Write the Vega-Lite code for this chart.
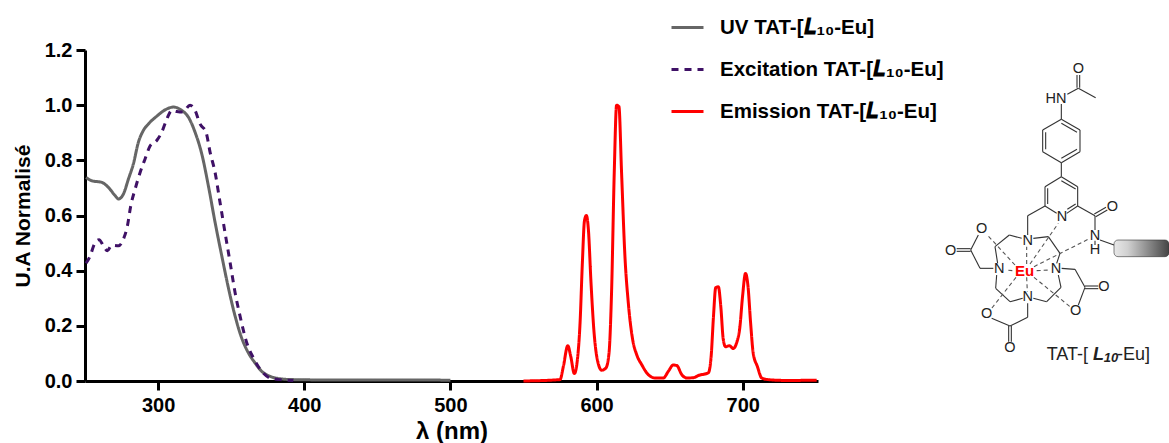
{"$schema":"https://vega.github.io/schema/vega-lite/v6.json","width":733,"height":331,"autosize":{"type":"none"},"padding":{"left":85,"top":50,"right":351,"bottom":62},"background":"white","config":{"view":{"stroke":null},"font":"Liberation Sans"},
"datasets":{"spectra":[
{"s":"UV","nm":250.7,"v":0.738},{"s":"UV","nm":254.6,"v":0.726},{"s":"UV","nm":261.5,"v":0.72},{"s":"UV","nm":266,"v":0.702},{"s":"UV","nm":270.6,"v":0.672},{"s":"UV","nm":272.9,"v":0.66},{"s":"UV","nm":276.3,"v":0.678},{"s":"UV","nm":279.7,"v":0.732},{"s":"UV","nm":283.1,"v":0.787},{"s":"UV","nm":286.5,"v":0.865},{"s":"UV","nm":289.9,"v":0.908},{"s":"UV","nm":293.4,"v":0.932},{"s":"UV","nm":299.1,"v":0.96},{"s":"UV","nm":304.8,"v":0.983},{"s":"UV","nm":310.5,"v":0.993},{"s":"UV","nm":316.2,"v":0.981},{"s":"UV","nm":320.8,"v":0.956},{"s":"UV","nm":325.3,"v":0.902},{"s":"UV","nm":329.9,"v":0.823},{"s":"UV","nm":334.4,"v":0.708},{"s":"UV","nm":339,"v":0.575},{"s":"UV","nm":343.6,"v":0.453},{"s":"UV","nm":348.1,"v":0.338},{"s":"UV","nm":352.7,"v":0.235},{"s":"UV","nm":357.2,"v":0.156},{"s":"UV","nm":361.8,"v":0.102},{"s":"UV","nm":366.4,"v":0.065},{"s":"UV","nm":370.9,"v":0.035},{"s":"UV","nm":376.6,"v":0.017},{"s":"UV","nm":383.5,"v":0.008},{"s":"UV","nm":392.6,"v":0.005},{"s":"UV","nm":408.6,"v":0.004},{"s":"UV","nm":442.8,"v":0.004},{"s":"UV","nm":500,"v":0.003},
{"s":"EX","nm":250.7,"v":0.427},{"s":"EX","nm":253.5,"v":0.453},{"s":"EX","nm":256.4,"v":0.496},{"s":"EX","nm":259.6,"v":0.512},{"s":"EX","nm":262.6,"v":0.49},{"s":"EX","nm":265.3,"v":0.472},{"s":"EX","nm":268.3,"v":0.492},{"s":"EX","nm":272.9,"v":0.49},{"s":"EX","nm":276.7,"v":0.52},{"s":"EX","nm":279,"v":0.562},{"s":"EX","nm":281.3,"v":0.635},{"s":"EX","nm":284.3,"v":0.696},{"s":"EX","nm":287.7,"v":0.756},{"s":"EX","nm":291.1,"v":0.805},{"s":"EX","nm":294.6,"v":0.853},{"s":"EX","nm":299.1,"v":0.872},{"s":"EX","nm":302.5,"v":0.902},{"s":"EX","nm":306,"v":0.95},{"s":"EX","nm":309.4,"v":0.981},{"s":"EX","nm":312.8,"v":0.977},{"s":"EX","nm":316.9,"v":0.975},{"s":"EX","nm":321.9,"v":1.0},{"s":"EX","nm":325.3,"v":0.981},{"s":"EX","nm":328.7,"v":0.932},{"s":"EX","nm":332.8,"v":0.902},{"s":"EX","nm":335.6,"v":0.829},{"s":"EX","nm":339,"v":0.756},{"s":"EX","nm":342.4,"v":0.647},{"s":"EX","nm":345.8,"v":0.538},{"s":"EX","nm":349.3,"v":0.429},{"s":"EX","nm":352.7,"v":0.32},{"s":"EX","nm":356.1,"v":0.235},{"s":"EX","nm":360.7,"v":0.138},{"s":"EX","nm":365.2,"v":0.084},{"s":"EX","nm":370.9,"v":0.035},{"s":"EX","nm":376.6,"v":0.011},{"s":"EX","nm":383.5,"v":0.005},{"s":"EX","nm":392.6,"v":0.002},
{"s":"EM","nm":550,"v":0},{"s":"EM","nm":575,"v":0.005},{"s":"EM","nm":577.3,"v":0.053},{"s":"EM","nm":580.3,"v":0.128},{"s":"EM","nm":582.3,"v":0.09},{"s":"EM","nm":584.8,"v":0.027},{"s":"EM","nm":586.9,"v":0.078},{"s":"EM","nm":588.7,"v":0.21},{"s":"EM","nm":590.3,"v":0.43},{"s":"EM","nm":591.7,"v":0.58},{"s":"EM","nm":593,"v":0.6},{"s":"EM","nm":594.4,"v":0.55},{"s":"EM","nm":596.2,"v":0.356},{"s":"EM","nm":598.3,"v":0.175},{"s":"EM","nm":600.5,"v":0.078},{"s":"EM","nm":603.5,"v":0.039},{"s":"EM","nm":606.4,"v":0.047},{"s":"EM","nm":608.5,"v":0.1},{"s":"EM","nm":610.3,"v":0.33},{"s":"EM","nm":612.1,"v":0.756},{"s":"EM","nm":613.7,"v":1.0},{"s":"EM","nm":615.3,"v":0.995},{"s":"EM","nm":617.1,"v":0.756},{"s":"EM","nm":619.4,"v":0.453},{"s":"EM","nm":621.7,"v":0.284},{"s":"EM","nm":624.7,"v":0.15},{"s":"EM","nm":627.4,"v":0.096},{"s":"EM","nm":630.8,"v":0.06},{"s":"EM","nm":635.4,"v":0.023},{"s":"EM","nm":640,"v":0.011},{"s":"EM","nm":645.7,"v":0.011},{"s":"EM","nm":649.1,"v":0.035},{"s":"EM","nm":652.5,"v":0.058},{"s":"EM","nm":654.9,"v":0.056},{"s":"EM","nm":658.3,"v":0.023},{"s":"EM","nm":661.7,"v":0.011},{"s":"EM","nm":666.2,"v":0.012},{"s":"EM","nm":669.7,"v":0.02},{"s":"EM","nm":676.5,"v":0.03},{"s":"EM","nm":678.4,"v":0.09},{"s":"EM","nm":680,"v":0.235},{"s":"EM","nm":681.5,"v":0.338},{"s":"EM","nm":683.3,"v":0.342},{"s":"EM","nm":685,"v":0.27},{"s":"EM","nm":686.7,"v":0.15},{"s":"EM","nm":688.3,"v":0.124},{"s":"EM","nm":690.8,"v":0.128},{"s":"EM","nm":693.5,"v":0.118},{"s":"EM","nm":695.8,"v":0.138},{"s":"EM","nm":698,"v":0.193},{"s":"EM","nm":699.9,"v":0.308},{"s":"EM","nm":701.9,"v":0.39},{"s":"EM","nm":703.6,"v":0.344},{"s":"EM","nm":705.4,"v":0.21},{"s":"EM","nm":707.2,"v":0.1},{"s":"EM","nm":710,"v":0.053},{"s":"EM","nm":713,"v":0.011},{"s":"EM","nm":717.4,"v":0.005},{"s":"EM","nm":730,"v":0.002},{"s":"EM","nm":750.6,"v":0.003}],
"bonds":[
{"a":441,"b":75,"c":441,"d":113},{"a":449,"b":75,"c":449,"d":113},{"a":445,"b":115,"c":497,"d":143},{"a":445,"b":115,"c":412,"d":133},{"a":394,"b":162,"c":394,"d":208},
{"a":394,"b":208,"c":450,"d":240},{"a":450,"b":240,"c":450,"d":305},{"a":450,"b":305,"c":394,"d":338},{"a":394,"b":338,"c":338,"d":305},{"a":338,"b":305,"c":338,"d":240},{"a":338,"b":240,"c":394,"d":208},{"a":347,"b":247,"c":347,"d":298},{"a":394,"b":220,"c":441,"d":247},{"a":394,"b":325,"c":441,"d":298},{"a":394,"b":338,"c":394,"d":380},
{"a":394,"b":380,"c":345,"d":410},{"a":345,"b":410,"c":345,"d":468},{"a":345,"b":468,"c":380,"d":490},{"a":410,"b":490,"c":443,"d":468},{"a":443,"b":468,"c":443,"d":410},{"a":443,"b":410,"c":394,"d":380},{"a":353,"b":415,"c":353,"d":462},{"a":394,"b":392,"c":437,"d":417},{"a":437,"b":462,"c":412,"d":478},
{"a":443,"b":468,"c":495,"d":497},{"a":493,"b":492,"c":528,"d":472},{"a":497,"b":500,"c":532,"d":480},{"a":495,"b":497,"c":495,"d":540},{"a":495,"b":572,"c":495,"d":585},{"a":510,"b":570,"c":552,"d":585},
{"a":345,"b":468,"c":293,"d":497},{"a":293,"b":497,"c":293,"d":555},
{"a":275,"b":565,"c":238,"d":555},{"a":238,"b":555,"c":195,"d":590},{"a":195,"b":590,"c":203,"d":640},{"a":310,"b":565,"c":355,"d":560},{"a":355,"b":560,"c":390,"d":610},{"a":390,"b":610,"c":380,"d":640},{"a":385,"b":675,"c":393,"d":712},{"a":393,"b":712,"c":350,"d":755},{"a":350,"b":755,"c":310,"d":745},{"a":200,"b":675,"c":197,"d":715},{"a":197,"b":715,"c":240,"d":755},{"a":240,"b":755,"c":278,"d":745},
{"a":190,"b":655,"c":150,"d":655},{"a":150,"b":655,"c":122,"d":600},{"a":122,"b":596,"c":80,"d":596},{"a":122,"b":604,"c":80,"d":604},{"a":122,"b":600,"c":145,"d":555},
{"a":395,"b":655,"c":435,"d":658},{"a":435,"b":658,"c":465,"d":712},{"a":465,"b":708,"c":505,"d":708},{"a":465,"b":716,"c":505,"d":716},{"a":465,"b":712,"c":445,"d":765},
{"a":293,"b":760,"c":293,"d":802},{"a":293,"b":802,"c":240,"d":828},{"a":236,"b":828,"c":236,"d":875},{"a":244,"b":828,"c":244,"d":875},{"a":240,"b":828,"c":185,"d":805}],
"coord":[
{"a":290,"b":642,"c":290,"d":590},{"a":247,"b":662,"c":226,"d":660},{"a":320,"b":662,"c":358,"d":660},{"a":290,"b":682,"c":292,"d":725},{"a":255,"b":645,"c":172,"d":555},{"a":258,"b":682,"c":185,"d":775},{"a":312,"b":682,"c":420,"d":770},{"a":300,"b":642,"c":385,"d":520},{"a":312,"b":650,"c":480,"d":565}],
"atoms":[{"t":"O","a":445,"b":57},{"t":"HN","a":378,"b":147},{"t":"N","a":396,"b":502},{"t":"O","a":547,"b":470},{"t":"N","a":495,"b":557},{"t":"H","a":495,"b":600},{"t":"N","a":293,"b":572},{"t":"N","a":378,"b":658},{"t":"N","a":293,"b":742},{"t":"N","a":208,"b":658},{"t":"O","a":62,"b":602},{"t":"O","a":155,"b":537},{"t":"O","a":522,"b":712},{"t":"O","a":437,"b":783},{"t":"O","a":240,"b":893},{"t":"O","a":170,"b":792}]},
"layer":[
{"layer":[{"data":{"name":"spectra"},"mark":{"type":"line","strokeWidth":3,"interpolate":"monotone","clip":false},
"encoding":{"x":{"field":"nm","type":"quantitative","scale":{"domain":[250,751.5],"nice":false},
"axis":{"values":[300,400,500,600,700],"grid":false,"domainColor":"black","domainWidth":3,"tickColor":"black","tickWidth":3,"tickSize":9,"labelFontSize":20,"labelFontWeight":"bold","labelColor":"black","labelPadding":5,"title":"λ (nm)","titleFontSize":24,"titleFontWeight":"bold","titleColor":"black","titlePadding":4}},
"y":{"field":"v","type":"quantitative","scale":{"domain":[0,1.2],"nice":false},
"axis":{"values":[0,0.2,0.4,0.6,0.8,1.0,1.2],"format":".1f","grid":false,"domainColor":"black","domainWidth":3,"tickColor":"black","tickWidth":3,"tickSize":9,"labelFontSize":20,"labelFontWeight":"bold","labelColor":"black","labelPadding":4,"title":"U.A Normalisé","titleFontSize":21,"titleFontWeight":"bold","titleColor":"black","titlePadding":11}},
"color":{"field":"s","type":"nominal","title":null,"scale":{"domain":["UV","EX","EM"],"range":["#666666","#3f1166","#ff0000"]},
"legend":{"orient":"none","legendX":585,"legendY":-40,"symbolType":"stroke","symbolSize":1024,"symbolStrokeWidth":3,"labelFontSize":20.5,"labelFontWeight":"bold","labelColor":"black","labelOffset":15,"rowPadding":14,"labelExpr":"{'UV':'UV TAT-[𝑳₁₀-Eu]','EX':'Excitation TAT-[𝑳₁₀-Eu]','EM':'Emission TAT-[𝑳₁₀-Eu]'}[datum.label]","labelLimit":320}},
"strokeDash":{"field":"s","type":"nominal","title":null,"scale":{"domain":["UV","EX","EM"],"range":[[1,0],[7,6],[1,0]]}}}}]},
{"encoding":{"x":{"field":"a","type":"quantitative","scale":{"domain":[-2535,-336],"nice":false},"axis":null},"y":{"field":"b","type":"quantitative","scale":{"domain":[993,0],"nice":false},"axis":null}},
"layer":[
{"data":{"name":"bonds"},"mark":{"type":"rule","color":"#333333","strokeWidth":1.1},"encoding":{"x2":{"field":"c"},"y2":{"field":"d"}}},
{"data":{"name":"coord"},"mark":{"type":"rule","color":"#555555","strokeWidth":1.1,"strokeDash":[4,3]},"encoding":{"x2":{"field":"c"},"y2":{"field":"d"}}},
{"data":{"name":"atoms"},"mark":{"type":"text","fontSize":14.5,"color":"#222222","align":"center","baseline":"middle"},"encoding":{"text":{"field":"t"}}},
{"data":{"values":[{"t":"Eu","a":284,"b":662}]},"mark":{"type":"text","fontSize":15,"fontWeight":"bold","color":"#ff0000","align":"center","baseline":"middle"},"encoding":{"text":{"field":"t"}}},
{"data":{"values":[{"a":552,"b":570,"c":717,"d":620}]},"mark":{"type":"rect","cornerRadius":4,"color":{"gradient":"linear","x1":0,"y1":0,"x2":1,"y2":0,"stops":[{"offset":0,"color":"#e8e8e8"},{"offset":0.25,"color":"#d0d0d0"},{"offset":1,"color":"#444444"}]},"stroke":"#333333","strokeWidth":0.6},"encoding":{"x2":{"field":"c"},"y2":{"field":"d"}}},
{"data":{"values":[{"t":"TAT-[","a":350,"b":915},{"t":"-Eu]","a":561,"b":915}]},"mark":{"type":"text","fontSize":18,"color":"#222222","align":"left","baseline":"middle"},"encoding":{"text":{"field":"t"}}},
{"data":{"values":[{"t":"L","a":489,"b":915}]},"mark":{"type":"text","fontSize":18,"fontWeight":"bold","fontStyle":"italic","color":"#222222","align":"left","baseline":"middle"},"encoding":{"text":{"field":"t"}}},
{"data":{"values":[{"t":"10","a":521,"b":925}]},"mark":{"type":"text","fontSize":13,"fontWeight":"bold","fontStyle":"italic","color":"#222222","align":"left","baseline":"middle"},"encoding":{"text":{"field":"t"}}}
]}
],"resolve":{"scale":{"x":"independent","y":"independent"}}}
